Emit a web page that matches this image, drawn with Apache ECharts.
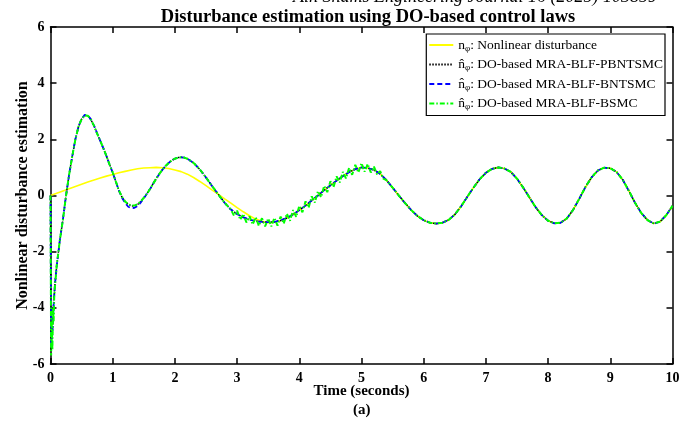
<!DOCTYPE html>
<html>
<head>
<meta charset="utf-8">
<script src="https://cdn.jsdelivr.net/npm/echarts@6/dist/echarts.min.js"></script>
<style>html,body{margin:0;padding:0;background:#fff}#c{width:691px;height:436px}</style>
</head>
<body>
<div id="c"></div>
<script>
// ---- data ----
var xTicks = [0,1,2,3,4,5,6,7,8,9,10];
var yTicks = [-6,-4,-2,0,2,4,6];
var seriesNames = ['n_phi: Nonlinear disturbance','nhat_phi: DO-based MRA-BLF-PBNTSMC','nhat_phi: DO-based MRA-BLF-BNTSMC','nhat_phi: DO-based MRA-BLF-BSMC'];

var timeN = [0,0.1,0.2,0.3,0.4,0.5,0.6,0.7,0.8,0.9,1.0,1.1,1.2,1.3,1.4,1.5,1.6,1.7,1.8,1.9,2.0,2.1,2.2,2.3,2.4,2.5,2.6,2.7,2.8,2.9,3.0,3.1,3.2,3.3,3.4,3.5,3.6,3.7,3.8,3.9,4.0,4.1,4.2,4.3,4.4,4.5,4.6,4.7,4.8,4.9,5.0,5.1,5.2,5.3,5.4,5.5,5.6,5.7,5.8,5.9,6.0,6.1,6.2,6.3,6.4,6.5,6.6,6.7,6.8,6.9,7.0,7.1,7.2,7.3,7.4,7.5,7.6,7.7,7.8,7.9,8.0,8.1,8.2,8.3,8.4,8.5,8.6,8.7,8.8,8.9,9.0,9.1,9.2,9.3,9.4,9.5,9.6,9.7,9.8,9.9,10.0];
var nonlinear = [0,0.08,0.16,0.24,0.32,0.40,0.48,0.55,0.62,0.69,0.75,0.81,0.86,0.91,0.95,0.98,0.99,1.00,0.99,0.96,0.91,0.85,0.76,0.64,0.50,0.35,0.19,0.04,-0.12,-0.27,-0.43,-0.58,-0.72,-0.84,-0.92,-0.97,-0.95,-0.89,-0.80,-0.68,-0.52,-0.36,-0.18,0.00,0.19,0.36,0.53,0.69,0.83,0.94,1.00,0.98,0.91,0.77,0.55,0.28,0.00,-0.27,-0.52,-0.73,-0.88,-0.97,-1.00,-0.97,-0.87,-0.68,-0.39,-0.05,0.28,0.58,0.81,0.95,1.00,0.96,0.84,0.60,0.28,-0.07,-0.42,-0.70,-0.90,-0.99,-0.97,-0.82,-0.52,-0.12,0.30,0.65,0.89,0.99,0.97,0.84,0.56,0.16,-0.27,-0.63,-0.88,-1.00,-0.93,-0.70,-0.37];

var timeE = [0,0.01,0.03,0.05,0.07,0.1,0.15,0.2,0.25,0.3,0.35,0.4,0.45,0.5,0.55,0.6,0.65,0.7,0.75,0.8,0.85,0.9,0.95,1.0,1.05,1.1,1.15,1.2,1.25,1.3,1.35,1.4,1.45,1.5,1.55,1.6,1.65,1.7,1.75,1.8,1.85,1.9,1.95,2.0,2.05,2.1,2.15,2.2,2.3,2.4,2.5,2.6,2.7,2.8,2.9,3.0,3.1,3.2,3.3,3.4,3.5,3.6,3.7,3.8,3.9,4.0,4.1,4.2,4.3,4.4,4.5,4.6,4.7,4.8,4.9,5.0,5.1,5.2,5.3,5.4,5.5,5.6,5.7,5.8,5.9,6.0,6.1,6.2,6.3,6.4,6.5,6.6,6.7,6.8,6.9,7.0,7.1,7.2,7.3,7.4,7.5,7.6,7.7,7.8,7.9,8.0,8.1,8.2,8.3,8.4,8.5,8.6,8.7,8.8,8.9,9.0,9.1,9.2,9.3,9.4,9.5,9.6,9.7,9.8,9.9,10.0];
var estPBNTSMC = [0,-5.5,-4.9,-3.9,-3.2,-2.5,-1.6,-0.85,0.0,0.75,1.4,2.0,2.45,2.72,2.85,2.84,2.7,2.48,2.2,1.95,1.68,1.4,1.1,0.82,0.5,0.18,-0.06,-0.22,-0.32,-0.37,-0.37,-0.32,-0.22,-0.09,0.06,0.23,0.42,0.6,0.77,0.92,1.05,1.16,1.25,1.31,1.35,1.36,1.35,1.31,1.16,0.93,0.64,0.33,0.03,-0.26,-0.5,-0.66,-0.78,-0.86,-0.91,-0.94,-0.95,-0.94,-0.89,-0.80,-0.68,-0.52,-0.36,-0.18,0.00,0.19,0.36,0.53,0.69,0.83,0.94,1.00,0.98,0.91,0.77,0.55,0.28,0.00,-0.27,-0.52,-0.73,-0.88,-0.97,-1.00,-0.97,-0.87,-0.68,-0.39,-0.05,0.28,0.58,0.81,0.95,1.00,0.96,0.84,0.60,0.28,-0.07,-0.42,-0.70,-0.90,-0.99,-0.97,-0.82,-0.52,-0.12,0.30,0.65,0.89,0.99,0.97,0.84,0.56,0.16,-0.27,-0.63,-0.88,-1.00,-0.93,-0.70,-0.37];
var estBNTSMC = [0,-5.4,-4.9,-3.9,-3.2,-2.5,-1.6,-0.85,0.0,0.75,1.4,2.0,2.45,2.73,2.87,2.86,2.71,2.49,2.21,1.95,1.68,1.4,1.1,0.82,0.5,0.17,-0.08,-0.27,-0.40,-0.45,-0.44,-0.37,-0.25,-0.10,0.06,0.23,0.42,0.6,0.77,0.92,1.05,1.16,1.25,1.31,1.35,1.36,1.35,1.31,1.16,0.93,0.64,0.33,0.03,-0.26,-0.5,-0.66,-0.78,-0.86,-0.91,-0.94,-0.95,-0.94,-0.89,-0.80,-0.68,-0.52,-0.36,-0.18,0.00,0.19,0.36,0.53,0.69,0.83,0.94,1.00,0.98,0.91,0.77,0.55,0.28,0.00,-0.27,-0.52,-0.73,-0.88,-0.97,-1.00,-0.97,-0.87,-0.68,-0.39,-0.05,0.28,0.58,0.81,0.95,1.00,0.96,0.84,0.60,0.28,-0.07,-0.42,-0.70,-0.90,-0.99,-0.97,-0.82,-0.52,-0.12,0.30,0.65,0.89,0.99,0.97,0.84,0.56,0.16,-0.27,-0.63,-0.88,-1.00,-0.93,-0.70,-0.37];

var timeG = [0,0.01,0.02,0.03,0.04,0.05,0.06,0.07,0.1,0.15,0.2,0.25,0.3,0.35,0.4,0.45,0.5,0.55,0.6,0.65,0.7,0.75,0.8,0.85,0.9,0.95,1.0,1.05,1.1,1.15,1.2,1.25,1.3,1.35,1.4,1.45,1.5,1.55,1.6,1.65,1.7,1.75,1.8,1.85,1.9,1.95,2.0,2.05,2.1,2.15,2.2,2.3,2.4,2.5,2.6,2.7,2.8,2.9,2.95,3.0,3.05,3.1,3.15,3.2,3.25,3.3,3.35,3.4,3.45,3.5,3.55,3.6,3.65,3.7,3.75,3.8,3.85,3.9,3.95,4.0,4.05,4.1,4.15,4.2,4.25,4.3,4.35,4.4,4.45,4.5,4.55,4.6,4.65,4.7,4.75,4.8,4.85,4.9,4.95,5.0,5.05,5.1,5.15,5.2,5.25,5.3,5.35,5.4,5.5,5.6,5.7,5.8,5.9,6.0,6.1,6.2,6.3,6.4,6.5,6.6,6.7,6.8,6.9,7.0,7.1,7.2,7.3,7.4,7.5,7.6,7.7,7.8,7.9,8.0,8.1,8.2,8.3,8.4,8.5,8.6,8.7,8.8,8.9,9.0,9.1,9.2,9.3,9.4,9.5,9.6,9.7,9.8,9.9,10.0];
var estBSMC = [0,-5.7,-4.6,-5.5,-4.0,-4.5,-3.6,-3.3,-2.5,-1.6,-0.85,0.0,0.75,1.4,2.0,2.45,2.72,2.85,2.84,2.7,2.48,2.2,1.95,1.68,1.4,1.1,0.82,0.5,0.18,-0.05,-0.21,-0.31,-0.36,-0.36,-0.31,-0.21,-0.08,0.06,0.23,0.42,0.6,0.77,0.92,1.05,1.16,1.25,1.31,1.35,1.36,1.35,1.31,1.16,0.93,0.64,0.33,0.03,-0.26,-0.5,-0.72,-0.54,-0.86,-0.66,-0.96,-0.74,-1.03,-0.78,-1.08,-0.81,-1.10,-0.82,-1.10,-0.80,-1.07,-0.75,-1.00,-0.65,-0.90,-0.52,-0.76,-0.37,-0.60,-0.21,-0.43,-0.03,-0.25,0.15,-0.06,0.34,0.12,0.51,0.30,0.68,0.46,0.84,0.61,0.98,0.74,1.09,0.82,1.15,0.85,1.12,0.82,1.03,0.75,0.87,0.60,0.55,0.28,0.00,-0.27,-0.52,-0.73,-0.88,-0.97,-1.00,-0.97,-0.87,-0.68,-0.39,-0.05,0.28,0.58,0.81,0.95,1.00,0.96,0.84,0.60,0.28,-0.07,-0.42,-0.70,-0.90,-0.99,-0.97,-0.82,-0.52,-0.12,0.30,0.65,0.89,0.99,0.97,0.84,0.56,0.16,-0.27,-0.63,-0.88,-1.00,-0.93,-0.70,-0.37];

function pairs(t, v){ return t.map(function(x,i){ return [x, v[i]]; }); }

var serif = '"Liberation Serif", "Times New Roman", serif';
var chart = echarts.init(document.getElementById('c'), null, {renderer:'canvas'});

var legendText = {};
legendText[seriesNames[0]] = '{a|n}{s|\u03c6}{a|: Nonlinear disturbance}';
legendText[seriesNames[1]] = '{a|n\u0302}{s|\u03c6}{a|: DO-based MRA-BLF-PBNTSMC}';
legendText[seriesNames[2]] = '{a|n\u0302}{s|\u03c6}{a|: DO-based MRA-BLF-BNTSMC}';
legendText[seriesNames[3]] = '{a|n\u0302}{s|\u03c6}{a|: DO-based MRA-BLF-BSMC}';

var axisCommon = {
  axisLine:{show:true, onZero:false, lineStyle:{color:'#000', width:1.5}},
  axisTick:{show:true, inside:true, length:6, lineStyle:{color:'#000', width:1.5}},
  splitLine:{show:false}
};

chart.setOption({
  animation:false,
  backgroundColor:'#fff',
  title:{
    text:'Disturbance estimation using DO-based control laws',
    left:363, top:3, textAlign:'center',
    textStyle:{fontFamily:serif, fontWeight:'bold', fontSize:18.5, color:'#000'}
  },
  grid:{left:50.5, right:18.5, top:27, bottom:72, containLabel:false},
  legend:{
    orient:'vertical', right:26, top:34,
    backgroundColor:'#fff', borderColor:'#000', borderWidth:1.2,
    padding:[4,2,4,2], itemGap:4.5, itemWidth:24, itemHeight:14,
    itemStyle:{opacity:0, borderWidth:0},
    data:seriesNames,
    formatter:function(name){ return legendText[name]; },
    textStyle:{
      fontFamily:serif, fontSize:13.5, color:'#000',
      rich:{
        a:{fontFamily:serif, fontSize:13.5, color:'#000', lineHeight:16},
        s:{fontFamily:serif, fontSize:9, color:'#000', lineHeight:16, verticalAlign:'bottom'}
      }
    }
  },
  xAxis:[
    Object.assign({type:'value', min:0, max:10, interval:1, position:'bottom',
      name:'Time (seconds)', nameLocation:'middle', nameGap:20, nameMoveOverlap:false,
      nameTextStyle:{fontFamily:serif, fontWeight:'bold', fontSize:15, color:'#000'},
      axisLabel:{fontFamily:serif, fontWeight:'bold', fontSize:14, color:'#000', margin:7,
        formatter:function(v){ return xTicks.indexOf(v) >= 0 ? String(v) : ''; }}
    }, axisCommon),
    Object.assign({type:'value', min:0, max:10, interval:1, position:'top', axisLabel:{show:false}}, axisCommon)
  ],
  yAxis:[
    Object.assign({type:'value', min:-6, max:6, interval:2, position:'left',
      name:'Nonlinear disturbance estimation', nameLocation:'middle', nameGap:20, nameMoveOverlap:false,
      nameTextStyle:{fontFamily:serif, fontWeight:'bold', fontSize:16, color:'#000'},
      axisLabel:{fontFamily:serif, fontWeight:'bold', fontSize:14, color:'#000', margin:6,
        formatter:function(v){ return yTicks.indexOf(v) >= 0 ? String(v) : ''; }}
    }, axisCommon),
    Object.assign({type:'value', min:-6, max:6, interval:2, position:'right', axisLabel:{show:false}}, axisCommon)
  ],
  graphic:[
    {type:'text', left:293, top:-12, style:{text:'Ain Shams Engineering Journal 16 (2025) 103859', font:'italic 18px "Liberation Serif", serif', fill:'#000'}},
    {type:'text', left:353, top:403, style:{text:'(a)', font:'bold 15px "Liberation Serif", serif', fill:'#000'}}
  ],
  series:[
    {name:seriesNames[0], type:'line', showSymbol:false, symbol:'none', data:pairs(timeN, nonlinear),
      lineStyle:{color:'#ffff00', width:1.6}, itemStyle:{color:'#ffff00'}, z:2},
    {name:seriesNames[1], type:'line', showSymbol:false, symbol:'none', data:pairs(timeE, estPBNTSMC),
      lineStyle:{color:'#000', width:1.5, type:[1.5,1.5]}, itemStyle:{color:'#000'}, z:3},
    {name:seriesNames[2], type:'line', showSymbol:false, symbol:'none', data:pairs(timeE, estBNTSMC),
      lineStyle:{color:'#0000ff', width:1.8, type:[5,3]}, itemStyle:{color:'#0000ff'}, z:4},
    {name:seriesNames[3], type:'line', showSymbol:false, symbol:'none', data:pairs(timeG, estBSMC),
      lineStyle:{color:'#00ff00', width:2, type:[5,2,1.5,2]}, itemStyle:{color:'#00ff00'}, z:5}
  ]
});
</script>
</body>
</html>
